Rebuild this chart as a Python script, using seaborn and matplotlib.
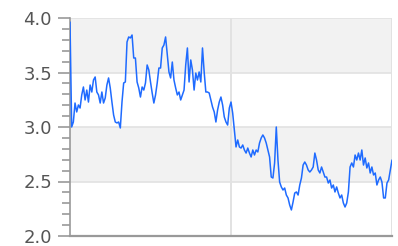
import numpy as np
import pandas as pd
import matplotlib
matplotlib.use("Agg")
import matplotlib.pyplot as plt
from matplotlib.ticker import MultipleLocator, NullFormatter
import seaborn as sns

values = [
    3.963, 3.0, 3.046, 3.22, 3.138, 3.202, 3.174, 3.294, 3.367, 3.248, 3.339, 3.229,
    3.385, 3.321, 3.431, 3.459, 3.321, 3.294, 3.22, 3.321, 3.22, 3.266, 3.385, 3.45,
    3.358, 3.229, 3.11, 3.046, 3.037, 3.046, 2.991, 3.229, 3.404, 3.413, 3.78, 3.826,
    3.817, 3.844, 3.633, 3.633, 3.413, 3.358, 3.275, 3.367, 3.339, 3.404, 3.569, 3.523,
    3.413, 3.312, 3.22, 3.294, 3.404, 3.541, 3.541, 3.725, 3.752, 3.826, 3.661, 3.505,
    3.45, 3.596, 3.431, 3.358, 3.294, 3.321, 3.248, 3.294, 3.339, 3.569, 3.725, 3.413,
    3.615, 3.523, 3.339,
    3.495, 3.431, 3.505, 3.413, 3.725, 3.505, 3.321, 3.321, 3.312, 3.248, 3.183, 3.138,
    3.046, 3.156, 3.229, 3.275, 3.202, 3.092, 3.046, 3.018, 3.174, 3.229, 3.128, 2.972,
    2.817, 2.881, 2.817, 2.807, 2.835, 2.789, 2.761, 2.807, 2.761, 2.725, 2.789, 2.743,
    2.789, 2.771, 2.853,
    2.899, 2.927, 2.899, 2.853, 2.789, 2.725, 2.541, 2.532, 2.67, 3.0, 2.697, 2.495,
    2.45, 2.422, 2.44, 2.376, 2.349, 2.284, 2.239, 2.312, 2.394, 2.404, 2.376, 2.468,
    2.532, 2.651, 2.679, 2.651, 2.606, 2.587, 2.606, 2.633, 2.761, 2.697, 2.606, 2.578,
    2.633, 2.587, 2.541,
    2.541, 2.486, 2.514, 2.44, 2.468, 2.404, 2.45, 2.394, 2.349, 2.376, 2.303, 2.266,
    2.303, 2.404, 2.633, 2.67, 2.633, 2.743, 2.697, 2.761, 2.697, 2.789, 2.651, 2.716,
    2.624, 2.67, 2.578, 2.633, 2.56, 2.578, 2.468, 2.514, 2.541, 2.495, 2.349, 2.349,
    2.486, 2.514, 2.606, 2.697,
]
index = list(range(len(values)))
y_ticks = [2.0, 2.5, 3.0, 3.5, 4.0]
y_labels = ["2.0", "2.5", "3.0", "3.5", "4.0"]

df = pd.DataFrame({"t": index, "v": values})

sns.set_theme(style="white")
plt.rcParams["font.family"] = ["DejaVu Sans"]

fig = plt.figure(figsize=(3.98, 2.46), dpi=100)
ax = fig.add_axes([70 / 398, 1 - 236 / 246, (392 - 70) / 398, (236 - 18) / 246])

n = len(values)
ax.set_xlim(0, n - 1)
ax.set_ylim(2.0, 4.0)

# alternating bands
for lo, hi in [(2.5, 3.0), (3.5, 4.0)]:
    ax.axhspan(lo, hi, color="#f2f2f2", lw=0, zorder=0)
for yv in [2.5, 3.0, 3.5, 4.0]:
    ax.axhline(yv, color="#e2e2e2", lw=1.2, zorder=1)
for xv in [(n - 1) / 2, n - 1]:
    ax.axvline(xv, color="#e2e2e2", lw=1.4, zorder=1)

sns.lineplot(data=df, x="t", y="v", ax=ax, color="#1f6bff", lw=1.1, zorder=3)

ax.set_xlabel("")
ax.set_ylabel("")
ax.set_xticks([])
ax.set_yticks(y_ticks)
ax.set_yticklabels(y_labels)
ax.yaxis.set_minor_locator(MultipleLocator(0.1))
ax.tick_params(axis="y", which="major", length=9, width=1.2, color="#999999",
               labelsize=13, labelcolor="#555555", pad=4, left=True)
ax.tick_params(axis="y", which="minor", length=6, width=1.2, color="#999999", left=True)

for s in ["top", "right"]:
    ax.spines[s].set_visible(False)
ax.spines["left"].set_color("#999999")
ax.spines["left"].set_linewidth(1.2)
ax.spines["bottom"].set_color("#999999")
ax.spines["bottom"].set_linewidth(1.6)
ax.set_facecolor("white")

fig.savefig("out.png", dpi=100)
